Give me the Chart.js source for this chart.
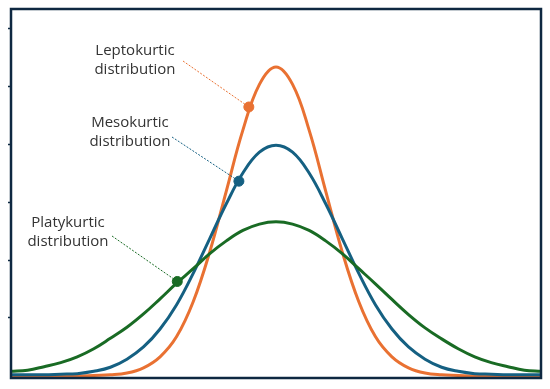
<!DOCTYPE html>
<html>
<head>
<meta charset="utf-8">
<script src="https://cdn.jsdelivr.net/npm/chart.js@4/dist/chart.umd.min.js"></script>
<style>
  html, body { margin: 0; padding: 0; background: #fff; }
</style>
</head>
<body>
<canvas id="kurtosisChart" width="550" height="389"></canvas>
<script>
// x positions (standard units)
const xValues = [-4, -3.75, -3.5, -3.25, -3, -2.75, -2.5, -2.25, -2, -1.75, -1.5, -1.25, -1, -0.75, -0.5, -0.25,
  0, 0.25, 0.5, 0.75, 1, 1.25, 1.5, 1.75, 2, 2.25, 2.5, 2.75, 3, 3.25, 3.5, 3.75, 4];

const leptoValues = [0, 0, 0, 0, 0, 0.01, 0.02, 0.05, 0.14, 0.33, 0.68, 1.28, 2.14, 3.19, 4.24, 5.03,
  5.33, 5.03, 4.24, 3.19, 2.14, 1.28, 0.68, 0.33, 0.14, 0.05, 0.02, 0.01, 0, 0, 0, 0, 0];

const mesoValues = [0.02, 0.02, 0.02, 0.03, 0.04, 0.08, 0.15, 0.29, 0.5, 0.81, 1.23, 1.77, 2.37, 2.97, 3.5, 3.86,
  3.98, 3.86, 3.5, 2.97, 2.37, 1.77, 1.23, 0.81, 0.5, 0.29, 0.15, 0.08, 0.04, 0.03, 0.02, 0.02, 0.02];

const platyValues = [0.08, 0.1, 0.16, 0.23, 0.33, 0.47, 0.65, 0.84, 1.07, 1.33, 1.6, 1.85, 2.11, 2.33, 2.51, 2.62,
  2.66, 2.62, 2.51, 2.33, 2.11, 1.85, 1.59, 1.32, 1.06, 0.83, 0.64, 0.47, 0.33, 0.23, 0.16, 0.1, 0.08];

// marked points on each curve
const seriesNames = ['Leptokurtic', 'Mesokurtic', 'Platykurtic'];
const markerX = [-0.41, -0.56, -1.49];
const markerY = [4.64, 3.36, 1.63];

const colors = ['#E97132', '#156082', '#196B24'];
const frameColor = '#0E2841';

// label placement (pixels): center x, first baseline, leader start
const labelSpots = [
  { x: 135, y: 55, lx: 183, ly: 61 },
  { x: 130, y: 126.5, lx: 172, ly: 137 },
  { x: 68, y: 226.5, lx: 112, ly: 236 }
];

const toPoints = vals => xValues.map((x, i) => ({ x: x, y: vals[i] }));

const framePlugin = {
  id: 'frame',
  afterDatasetsDraw(chart) {
    const { ctx, chartArea: a } = chart;
    ctx.save();
    ctx.strokeStyle = frameColor;
    ctx.lineWidth = 2.5;
    ctx.strokeRect(a.left, a.top, a.right - a.left, a.bottom - a.top);
    ctx.restore();
  }
};

const labelPlugin = {
  id: 'curveLabels',
  afterDraw(chart) {
    const { ctx } = chart;
    const xs = chart.scales.x, ys = chart.scales.y;
    ctx.save();
    labelSpots.forEach((s, i) => {
      // dotted leader to the marker
      ctx.strokeStyle = colors[i];
      ctx.lineWidth = 1;
      ctx.setLineDash([2, 1.5]);
      ctx.beginPath();
      ctx.moveTo(s.lx, s.ly);
      ctx.lineTo(xs.getPixelForValue(markerX[i]), ys.getPixelForValue(markerY[i]));
      ctx.stroke();
      ctx.setLineDash([]);

      ctx.fillStyle = '#333333';
      ctx.font = '15px "Open Sans", sans-serif';
      ctx.textAlign = 'center';
      ctx.textBaseline = 'alphabetic';
      ctx.fillText(seriesNames[i], s.x, s.y);
      ctx.fillText('distribution', s.x, s.y + 19);
    });
    ctx.restore();
  }
};

const curveSets = [platyValues, mesoValues, leptoValues].map((vals, k) => {
  const idx = 2 - k;
  return {
    type: 'line',
    label: seriesNames[idx],
    data: toPoints(vals),
    borderColor: colors[idx],
    borderWidth: 3,
    pointRadius: 0,
    fill: false,
    tension: 0.4,
    order: 3
  };
});

const markerSets = seriesNames.map((name, i) => ({
  type: 'scatter',
  label: name + ' point',
  data: [{ x: markerX[i], y: markerY[i] }],
  backgroundColor: colors[i],
  borderColor: colors[i],
  pointRadius: 5,
  order: 1
}));

new Chart(document.getElementById('kurtosisChart'), {
  type: 'line',
  data: { datasets: curveSets.concat(markerSets) },
  options: {
    responsive: false,
    animation: false,
    layout: { padding: { left: 8, top: 9, right: 9, bottom: 11 } },
    plugins: { legend: { display: false }, tooltip: { enabled: false } },
    scales: {
      x: {
        type: 'linear',
        min: -4,
        max: 4,
        display: false
      },
      y: {
        min: -0.035,
        max: 6.33,
        ticks: { display: false, stepSize: 1 },
        grid: {
          drawOnChartArea: false,
          drawTicks: true,
          tickLength: 3,
          tickWidth: 1.5,
          tickColor: frameColor
        },
        border: { display: false },
        afterBuildTicks: axis => {
          axis.ticks = axis.ticks.filter(t => Number.isInteger(t.value) && t.value > 0);
        }
      }
    }
  },
  plugins: [framePlugin, labelPlugin]
});
</script>
</body>
</html>
